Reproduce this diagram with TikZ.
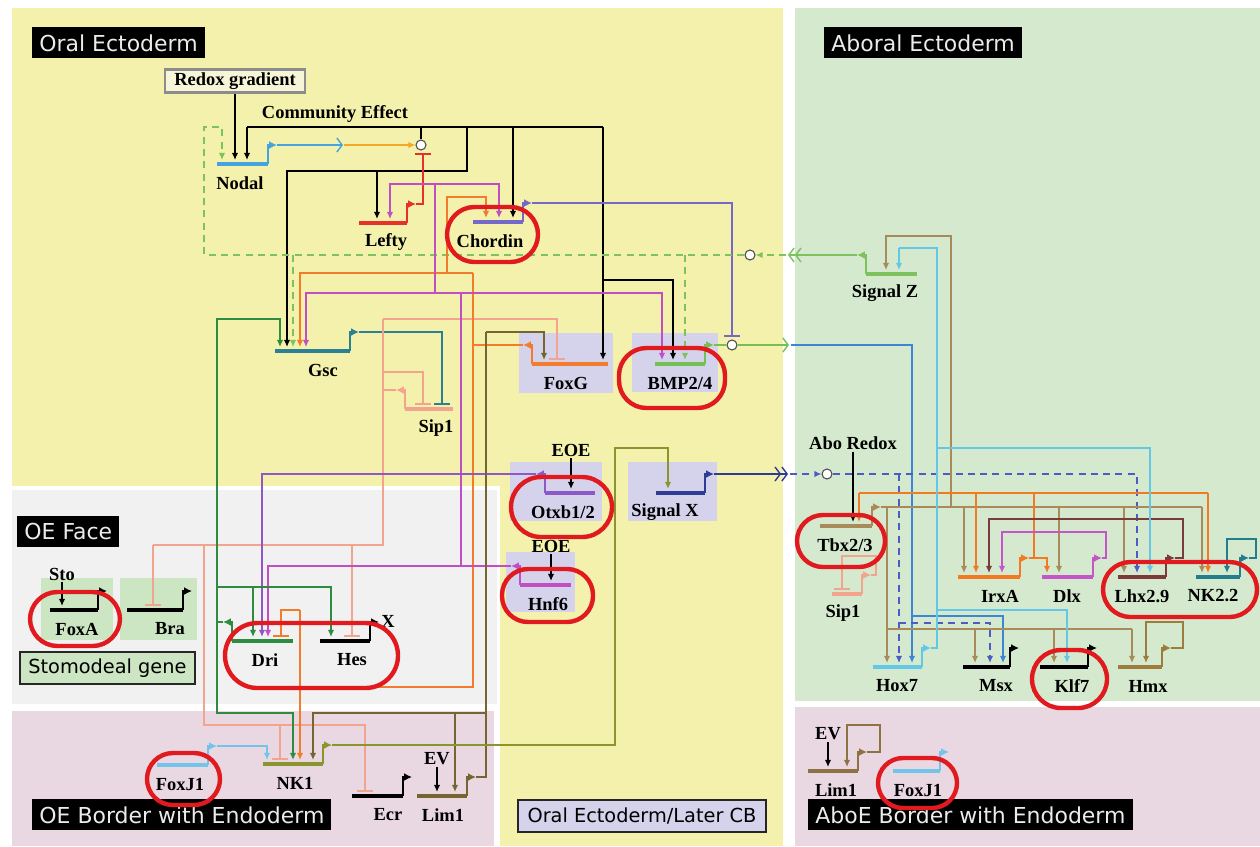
\documentclass[tikz,border=0pt]{standalone}
\usepackage{fontspec}
\newfontfamily\tagfont{DejaVu Sans}
\newfontfamily\genefont{Liberation Serif}
\usetikzlibrary{arrows.meta}
\definecolor{oralbg}{HTML}{F3F1AB}
\definecolor{aborbg}{HTML}{D5E9CE}
\definecolor{facebg}{HTML}{F1F1F1}
\definecolor{bordbg}{HTML}{E9D8E2}
\definecolor{lavbox}{HTML}{D5D3EB}
\definecolor{stobox}{HTML}{CCE5C3}
\definecolor{redoxbg}{HTML}{F7F5D8}
\definecolor{ovalred}{HTML}{E01A1F}
\definecolor{nodalc}{HTML}{45A3DE}
\definecolor{relayc}{HTML}{F4A823}
\definecolor{leftyc}{HTML}{E8302A}
\definecolor{chordc}{HTML}{7668C9}
\definecolor{gscc}{HTML}{2B8093}
\definecolor{sipc}{HTML}{F2A48E}
\definecolor{foxgc}{HTML}{F27C2C}
\definecolor{bmpc}{HTML}{74C153}
\definecolor{bmpout}{HTML}{3C86D6}
\definecolor{sigzc}{HTML}{7DC25D}
\definecolor{sigxc}{HTML}{2E3C96}
\definecolor{dashbl}{HTML}{4C5CC4}
\definecolor{otxc}{HTML}{8E58C6}
\definecolor{hnfc}{HTML}{C24EC4}
\definecolor{dric}{HTML}{2F8B3F}
\definecolor{nkonec}{HTML}{8A9530}
\definecolor{limc}{HTML}{756631}
\definecolor{foxjc}{HTML}{72C4EA}
\definecolor{tbxc}{HTML}{A88B58}
\definecolor{irxc}{HTML}{F27A22}
\definecolor{dlxc}{HTML}{C455CA}
\definecolor{lhxc}{HTML}{7C3B3B}
\definecolor{nktc}{HTML}{247D8D}
\definecolor{hoxc}{HTML}{62C8E6}
\definecolor{hmxc}{HTML}{9C7D3E}
\definecolor{ablimc}{HTML}{8D7244}
\tikzset{
  gbar/.style={line width=2.3pt},
  prom/.style={line width=1.5pt, -{Latex[length=4.5pt,width=4.5pt]}},
  wire/.style={line width=0.8pt},
  act/.style={wire, -{Latex[length=4pt,width=3.6pt]}},
  rep/.style={wire, -{Bar[width=9pt,line width=1.4pt]}},
  dwire/.style={wire, dash pattern=on 4pt off 3pt},
  dact/.style={dwire, -{Latex[length=4pt,width=3.6pt]}},
  chev/.style={wire, -{Straight Barb[length=3pt,width=8pt]}},
  dchev/.style={wire, -{Straight Barb[length=3pt,width=8pt]Straight Barb[length=3pt,width=8pt]}},
  gname/.style={font=\genefont\bfseries\fontsize{10.5}{12}\selectfont, inner sep=1pt},
  region/.style={fill=black, text=white!92!black, font=\tagfont\fontsize{12.5}{14}\selectfont,
    inner xsep=4pt, inner ysep=0pt, minimum height=0.62cm, anchor=north west},
  tagbox/.style={draw=black!85, line width=1.1pt, text=black, font=\tagfont\fontsize{11}{12}\selectfont,
    inner xsep=3pt, inner ysep=0pt, minimum height=0.64cm, anchor=north west},
  geneshade/.style={fill=lavbox},
  oval/.style={draw=ovalred, line width=2.5pt, rounded corners=0.55cm},
  hub/.style={circle, draw=black!70, fill=white, line width=0.6pt, inner sep=0pt, minimum size=0.2cm},
}

\begin{document}
\begin{tikzpicture}[x=0.02cm, y=-0.02cm]
  \newcommand{\gene}[7]{% name, colour, left, right, y, label x, label
    \draw[gbar,#2] (#3,#5) -- (#4,#5);
    \draw[prom,#2] (#4,#5) -- (#4,#5-19) -- (#4+9,#5-19);
    \coordinate (#1o) at (#4+9,#5-19);
    \node[gname] (#1) at (#6,#5+19) {#7};}
  \newcommand{\geneL}[7]{%
    \draw[gbar,#2] (#3,#5) -- (#4,#5);
    \draw[prom,#2] (#3,#5) -- (#3,#5-19) -- (#3-9,#5-19);
    \coordinate (#1o) at (#3-9,#5-19);
    \node[gname] (#1) at (#6,#5+19) {#7};}
  \useasboundingbox (0,0) rectangle (1260,846);
  \fill[white] (0,0) rectangle (1260,846);
  % territories
  \fill[oralbg] (12,8) rectangle (783,846);
  \fill[aborbg] (795,8) rectangle (1260,701);
  \fill[bordbg] (795,707) rectangle (1260,846);
  \fill[white] (8,486) rectangle (500,846);
  \fill[facebg] (12,490) rectangle (497,704);
  \fill[bordbg] (12,711) rectangle (494,846);
  \fill[geneshade] (519,333) rectangle (613,393);
  \fill[geneshade] (632,333) rectangle (718,392);
  \fill[geneshade] (510,462) rectangle (602,521);
  \fill[geneshade] (628,462) rectangle (717,521);
  \fill[geneshade] (506,552) rectangle (575,612);
  \fill[stobox] (41,578) rectangle (113,640);
  \fill[stobox] (120,578) rectangle (197,640);

  \node[region] (oraltag) at (32,27) {Oral Ectoderm};
  \node[region] (abotag) at (824,27) {Aboral Ectoderm};
  \node[region] (facetag) at (17,516) {OE Face};
  \node[region] (oebtag) at (32,799) {OE Border with Endoderm};
  \node[region] (abbtag) at (808,799) {AboE Border with Endoderm};
  \node[tagbox, fill=lavbox, minimum width=4.96cm] (latecb) at (517,799) {Oral Ectoderm/Later CB};
  \node[tagbox, fill=stobox, minimum width=3.5cm] (stotag) at (19,651) {Stomodeal gene};
  \node[gname, draw=black!45, line width=1.3pt, fill=redoxbg, minimum width=2.8cm,
    minimum height=0.46cm] (redox) at (235,81) {Redox gradient};
  \node[gname] (comm) at (335,114) {Community Effect};
  \node[gname] (aboredox) at (853,443) {Abo Redox};
  \node[gname] (eoea) at (571,450) {EOE};
  \node[gname] (eoeb) at (551,546) {EOE};
  \node[gname] (sto) at (62,574) {Sto};
  \node[gname] (eva) at (437,759) {EV};
  \node[gname] (evb) at (828,734) {EV};
  \node[gname] (hesx) at (388,621) {X};

  \node[hub] (hubN) at (421,145) {};
  \node[hub] (hubZ) at (750,255) {};
  \node[hub] (hubB) at (732,345) {};
  \node[hub] (hubX) at (827,474) {};

  % oral ectoderm genes
  \gene{nodal}{nodalc}{217}{268}{164}{240}{Nodal}
  \gene{lefty}{leftyc}{359}{407}{223}{386}{Lefty}
  \gene{chordin}{chordc}{473}{523}{222}{490}{Chordin}
  \gene{gsc}{gscc}{275}{350}{351}{323}{Gsc}
  \geneL{sipo}{sipc}{405}{453}{409}{436}{Sip1}
  \geneL{foxg}{foxgc}{532}{608}{364}{566}{FoxG}
  \gene{bmp}{bmpc}{655}{705}{364}{680}{BMP2/4}
  \geneL{otx}{otxc}{545}{595}{493}{563}{Otxb1/2}
  \gene{sigx}{sigxc}{656}{705}{493}{665}{Signal X}
  \geneL{hnf}{hnfc}{520}{571}{585}{548}{Hnf6}
  \geneL{dri}{dric}{232}{293}{641}{265}{Dri}
  \gene{hes}{black}{320}{370}{641}{352}{Hes}
  \gene{foxa}{black}{50}{98}{610}{77}{FoxA}
  \gene{bra}{black}{127}{183}{610}{170}{Bra}
  \gene{nkone}{nkonec}{263}{323}{764}{295}{NK1}
  \gene{foxj}{foxjc}{157}{208}{765}{180}{FoxJ1}
  \gene{ecr}{black}{352}{403}{796}{388}{Ecr}
  \gene{lim}{limc}{417}{467}{796}{443}{Lim1}
  % aboral ectoderm genes
  \geneL{sigz}{sigzc}{866}{917}{274}{885}{Signal Z}
  \gene{tbx}{tbxc}{820}{872}{526}{845}{Tbx2/3}
  \gene{sipab}{sipc}{832}{862}{594}{843}{Sip1}
  \gene{irx}{irxc}{958}{1020}{577}{1000}{IrxA}
  \gene{dlx}{dlxc}{1042}{1093}{577}{1067}{Dlx}
  \gene{lhx}{lhxc}{1118}{1166}{577}{1142}{Lhx2.9}
  \gene{nkt}{nktc}{1196}{1240}{577}{1213}{NK2.2}
  \gene{hox}{hoxc}{873}{922}{667}{897}{Hox7}
  \gene{msx}{black}{963}{1010}{667}{996}{Msx}
  \gene{klf}{black}{1040}{1088}{667}{1072}{Klf7}
  \gene{hmx}{hmxc}{1118}{1162}{667}{1148}{Hmx}
  \gene{ablim}{ablimc}{808}{858}{771}{836}{Lim1}
  \gene{abfoxj}{foxjc}{893}{940}{771}{918}{FoxJ1}

  % nodal, community effect
  \draw[act] (redox.south) -- (235,160);
  \draw[wire] (247,127) -- (603,127);
  \draw[act] (247,127) -- (247,160);
  \draw[wire] (421,127) -- (hubN);
  \draw[act] (467,127) -- (467,171) -- (287,171) -- (287,347);
  \draw[act] (377,171) -- (377,219);
  \draw[act] (513,127) -- (513,218);
  \draw[act] (603,127) -- (603,360);
  \draw[act] (603,280) -- (673,280) -- (673,360);
  \draw[chev,nodalc] (nodalo) -- (343,145);
  \draw[act,relayc] (344,145) -- (hubN);
  \draw[rep,leftyc] (leftyo) -- (423,204) -- (423,153);
  \draw[rep,chordc] (chordino) -- (732,203) -- (732,337);
  \draw[wire,bmpc] (bmpo) -- (hubB);
  \draw[chev,bmpc] (hubB) -- (789,345);
  \draw[act,bmpout] (791,345) -- (912,345) -- (912,663);
  \draw[act,bmpout] (912,616) -- (1003,616) -- (1003,663);

  % signal Z relay
  \draw[dchev,sigzc] (sigzo) -- (788,255);
  \draw[dact,sigzc] (786,255) -- (hubZ);
  \draw[dact,sigzc] (hubZ) -- (204,255) -- (204,127) -- (222,127) -- (222,160);
  \draw[dact,sigzc] (293,255) -- (293,347);
  \draw[dact,sigzc] (685,255) -- (685,360);

  % gsc, sip1
  \draw[rep,gscc] (gsco) -- (442,332) -- (442,405);
  \draw[wire,sipc] (sipoo) -- (383,390);
  \draw[wire,sipc] (383,319) -- (383,545) -- (153,545);
  \draw[rep,sipc] (383,319) -- (557,319) -- (557,360);
  \draw[rep,sipc] (383,372) -- (423,372) -- (423,405);
  \draw[rep,sipc] (153,545) -- (153,606);
  \draw[rep,sipc] (204,545) -- (204,725) -- (365,725) -- (365,792);
  \draw[rep,sipc] (280,725) -- (280,760);
  \draw[rep,sipc] (352,545) -- (352,637);

  % foxg
  \draw[wire,foxgc] (foxgo) -- (473,345);
  \draw[wire,foxgc] (473,273) -- (473,687) -- (300,687);
  \draw[act,foxgc] (473,273) -- (300,273) -- (300,347);
  \draw[act,foxgc] (447,273) -- (447,197) -- (486,197) -- (486,218);
  \draw[act,foxgc] (300,610) -- (300,760);
  \draw[rep,foxgc] (300,610) -- (281,610) -- (281,637);

  % hnf6, otxb1/2
  \draw[wire,hnfc] (hnfo) -- (461,566);
  \draw[act,hnfc] (461,566) -- (268,566) -- (268,637);
  \draw[wire,hnfc] (461,566) -- (461,293);
  \draw[act,hnfc] (461,293) -- (306,293) -- (306,347);
  \draw[act,hnfc] (461,293) -- (662,293) -- (662,360);
  \draw[wire,hnfc] (435,293) -- (435,184);
  \draw[act,hnfc] (435,184) -- (390,184) -- (390,219);
  \draw[act,hnfc] (435,184) -- (499,184) -- (499,218);
  \draw[act,otxc] (otxo) -- (262,474) -- (262,637);
  \draw[act] (eoea.south) -- (571,489);
  \draw[act] (eoeb.south) -- (551,581);

  % dri
  \draw[wire,dric] (drio) -- (217,622);
  \draw[act,dric] (217,622) -- (217,319) -- (280,319) -- (280,347);
  \draw[act,dric] (217,622) -- (217,713) -- (293,713) -- (293,760);
  \draw[act,dric] (217,587) -- (331,587) -- (331,637);
  \draw[act,dric] (253,587) -- (253,637);
  \draw[act] (sto.south) -- (62,606);

  % border with endoderm
  \draw[act,foxjc] (foxjo) -- (267,746) -- (267,760);
  \draw[wire,limc] (limo) -- (486,777) -- (486,332);
  \draw[act,limc] (486,332) -- (544,332) -- (544,360);
  \draw[act,limc] (486,713) -- (313,713) -- (313,760);
  \draw[act,limc] (455,713) -- (455,792);
  \draw[act] (eva.south) -- (437,792);
  \draw[act,nkonec] (nkoneo) -- (615,745) -- (615,448) -- (668,448) -- (668,489);

  % signal X relay
  \draw[dchev,sigxc] (sigxo) -- (788,474);
  \draw[dact,dashbl] (790,474) -- (hubX);
  \draw[dact,dashbl] (hubX) -- (1137,474) -- (1137,573);
  \draw[dact,dashbl] (899,474) -- (899,663);
  \draw[dact,dashbl] (899,623) -- (990,623) -- (990,663);

  % aboral ectoderm
  \draw[act] (aboredox.south) -- (853,522);
  \draw[wire,tbxc] (tbxo) -- (1202,507);
  \draw[act,tbxc] (1202,507) -- (1202,573);
  \draw[act,tbxc] (964,507) -- (964,573);
  \draw[act,tbxc] (1059,507) -- (1059,573);
  \draw[act,tbxc] (1124,507) -- (1124,573);
  \draw[act,tbxc] (951,507) -- (951,236) -- (886,236) -- (886,270);
  \draw[wire,tbxc] (887,507) -- (887,629) -- (1132,629);
  \draw[act,tbxc] (887,629) -- (887,663);
  \draw[act,tbxc] (975,629) -- (975,663);
  \draw[act,tbxc] (1054,629) -- (1054,663);
  \draw[act,tbxc] (1132,629) -- (1132,663);
  \draw[rep,sipc] (sipabo) -- (876,575) -- (876,556) -- (842,556) -- (842,590);
  \draw[wire,irxc] (irxo) -- (1034,558) -- (1034,493);
  \draw[act,irxc] (1034,558) -- (1047,558) -- (1047,573);
  \draw[wire,irxc] (859,493) -- (1208,493);
  \draw[act,irxc] (859,493) -- (859,522);
  \draw[act,irxc] (976,493) -- (976,573);
  \draw[act,irxc] (1208,493) -- (1208,573);
  \draw[act,dlxc] (dlxo) -- (1106,558) -- (1106,532) -- (1002,532) -- (1002,573);
  \draw[act,lhxc] (lhxo) -- (1183,558) -- (1183,519) -- (989,519) -- (989,573);
  \draw[act,nktc] (nkto) -- (1256,558) -- (1256,539) -- (1227,539) -- (1227,573);
  \draw[wire,hoxc] (hoxo) -- (937,648) -- (937,248) -- (899,248);
  \draw[act,hoxc] (899,248) -- (899,270);
  \draw[act,hoxc] (937,448) -- (1150,448) -- (1150,573);
  \draw[act,hoxc] (937,610) -- (1067,610) -- (1067,663);
  \draw[act,hmxc] (hmxo) -- (1183,648) -- (1183,622) -- (1146,622) -- (1146,663);
  \draw[act,ablimc] (ablimo) -- (880,752) -- (880,725) -- (847,725) -- (847,767);
  \draw[act] (evb.south) -- (828,767);

  % highlighted genes
  \draw[oval] (447,207) rectangle (538,262);
  \draw[oval] (619,348) rectangle (725,408);
  \draw[oval, rounded corners=0.6cm] (511,477) rectangle (612,537);
  \draw[oval, rounded corners=0.52cm] (502,569) rectangle (593,622);
  \draw[oval, rounded corners=0.52cm] (797,515) rectangle (885,567);
  \draw[oval] (30,592) rectangle (120,646);
  \draw[oval, rounded corners=0.65cm] (225,623) rectangle (398,688);
  \draw[oval, rounded corners=0.52cm] (147,753) rectangle (220,805);
  \draw[oval] (1103,562) rectangle (1257,617);
  \draw[oval, rounded corners=0.58cm] (1032,650) rectangle (1107,708);
  \draw[oval, rounded corners=0.5cm] (878,758) rectangle (957,808);
\end{tikzpicture}
\end{document}
